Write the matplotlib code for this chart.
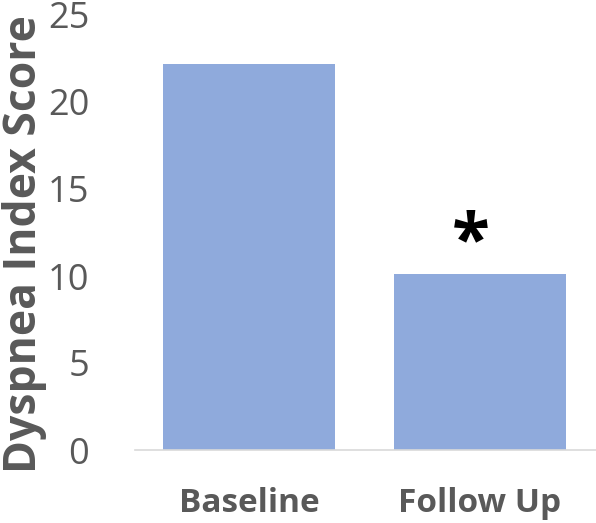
import matplotlib
matplotlib.use("Agg")
import matplotlib.pyplot as plt

categories = ["Baseline", "Follow Up"]
scores = [22.2, 10.1]
yticks = [0, 5, 10, 15, 20, 25]
significance = ["", "*"]

plt.rcParams['font.family'] = ['Open Sans', 'DejaVu Sans']

fig = plt.figure(figsize=(5.96, 5.23), dpi=100)
ax = fig.add_axes([135/596, 1-450/523, 461/596, (450-15)/523])

x = list(range(len(categories)))
bars = ax.bar(x, scores, width=0.746, color="#8FAADC", zorder=2)
ax.set_xlim(-0.495, 1.505)
ax.set_ylim(0, 25)
ax.set_yticks(yticks)
ax.set_yticklabels([str(t) for t in yticks], fontsize=26, color="#595959")
ax.set_xticks(x)
ax.set_xticklabels(categories, fontsize=24, fontweight='bold', color="#595959")
ax.tick_params(axis='y', length=0, pad=33)
ax.tick_params(axis='x', length=0, pad=27)

for s in ['top', 'right', 'left']:
    ax.spines[s].set_visible(False)
ax.spines['bottom'].set_color("#D9D9D9")
ax.spines['bottom'].set_linewidth(1.2)

for xi, v, sig in zip(x, scores, significance):
    if sig:
        ax.text(xi - 0.04, v + 1.75, sig, ha='center', va='center', fontsize=50,
                fontweight='bold', color='black')

ax.set_ylabel("Dyspnea Index Score", fontsize=32, fontweight='bold', color="#595959")
ax.yaxis.set_label_coords(-0.19, 0.474)

fig.savefig("out.png", dpi=100)
